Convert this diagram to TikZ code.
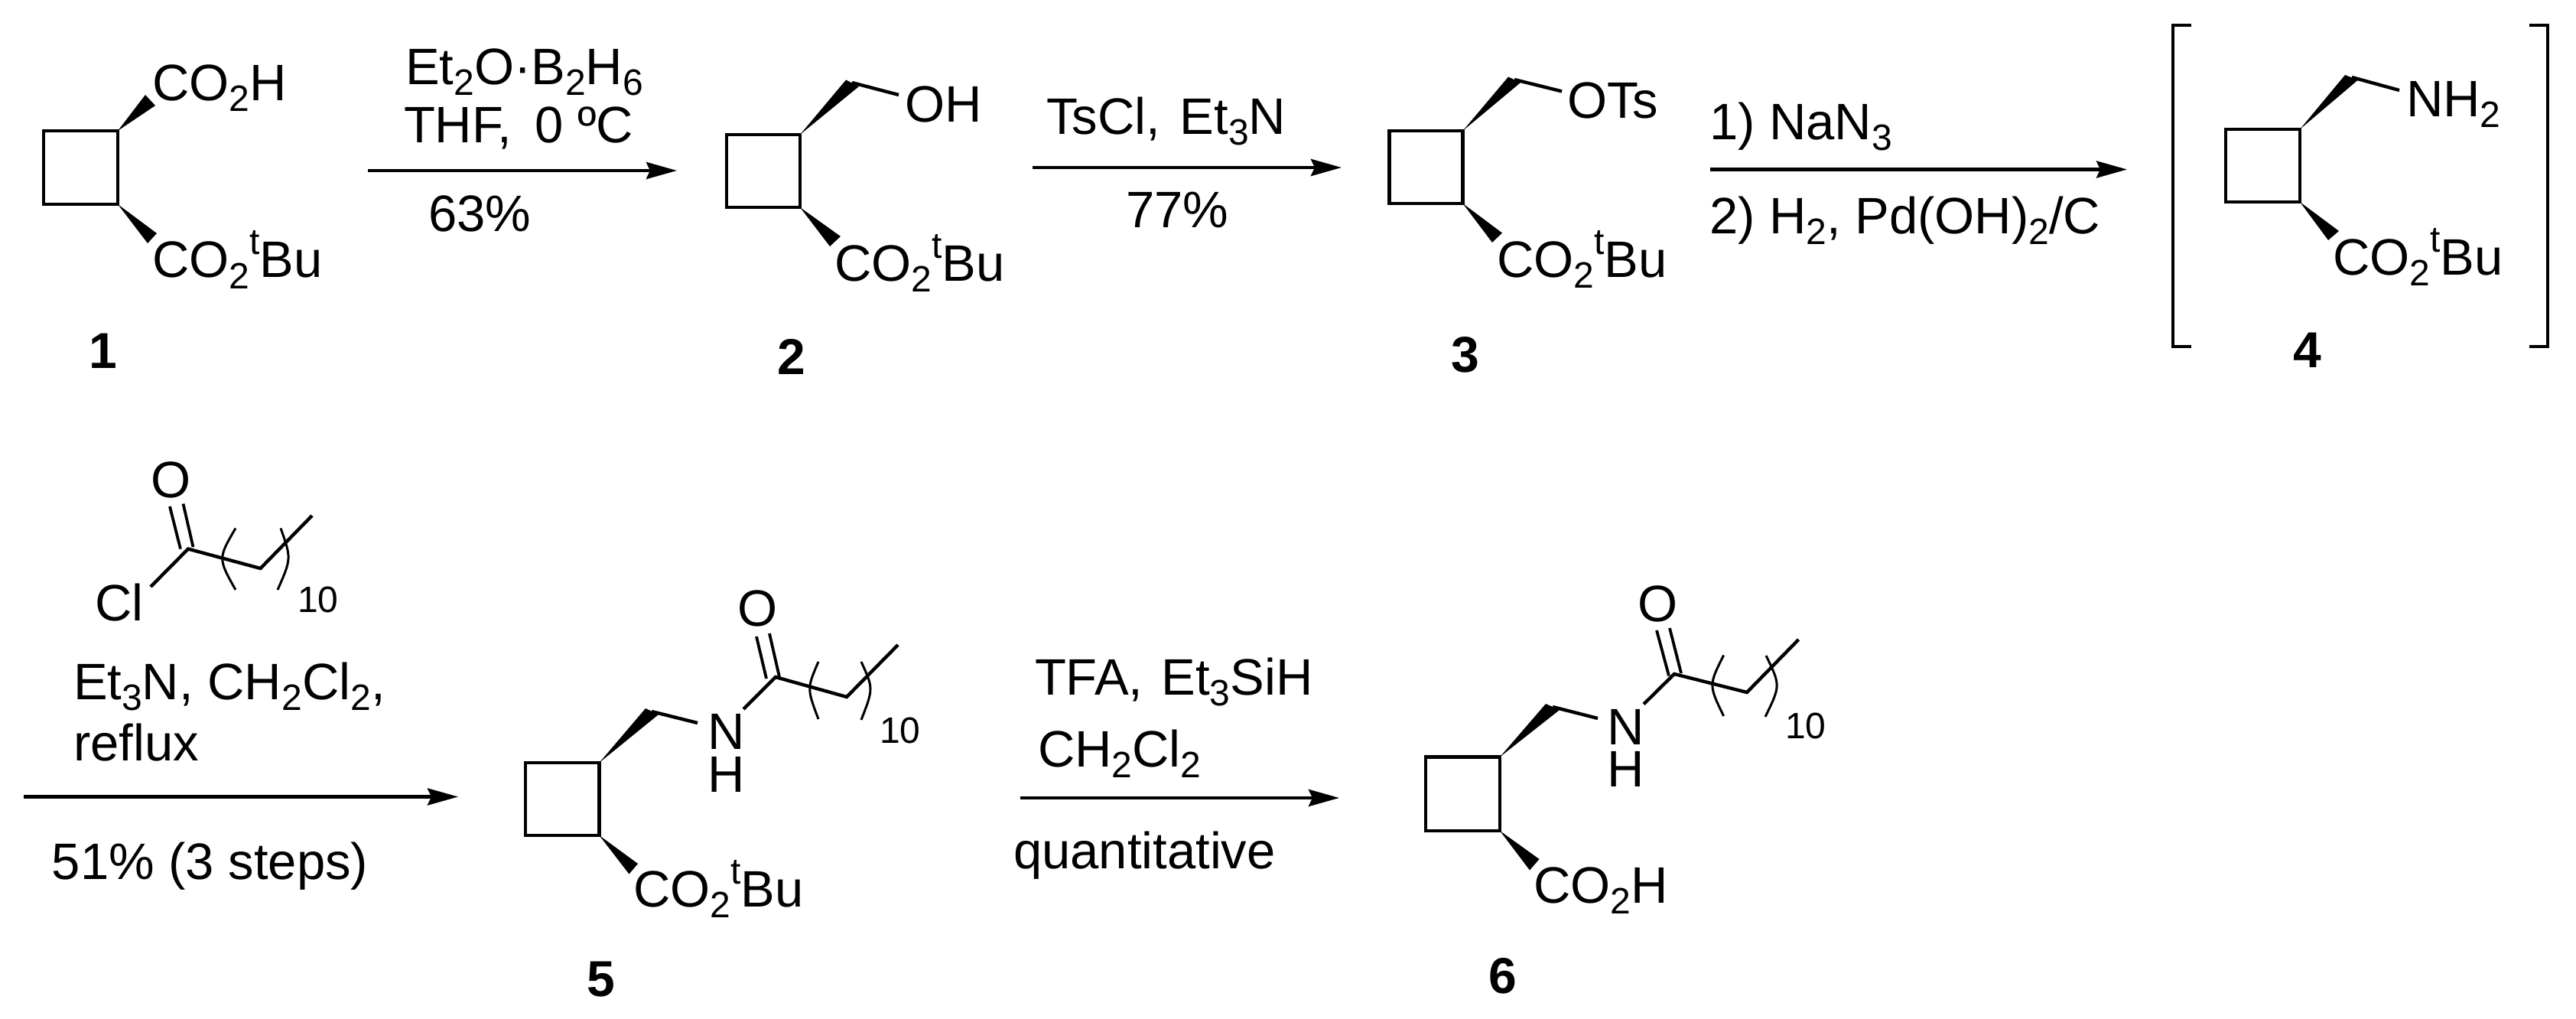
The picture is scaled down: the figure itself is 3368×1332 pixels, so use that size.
\documentclass[tikz,border=0pt]{standalone}
\usepackage{fontspec}
\setmainfont{Liberation Sans}
\usetikzlibrary{arrows.meta}
\newcommand{\dn}[1]{\raisebox{-7pt}{\fontsize{24pt}{27pt}\selectfont #1}}
\newcommand{\up}[1]{\raisebox{15pt}{\fontsize{24pt}{27pt}\selectfont #1}}
\newcommand{\ten}{\fontsize{24pt}{27pt}\selectfont 10}
\tikzset{
  txt/.style={anchor=base west,inner sep=0pt,outer sep=0pt,font=\fontsize{33.5pt}{38pt}\selectfont},
  cmpd/.style={anchor=center,inner sep=0pt,outer sep=0pt,font=\fontsize{33pt}{36pt}\selectfont\bfseries},
  bond/.style={line width=2.2pt,line join=miter},
  dbl/.style={line width=1.9pt},
  hook/.style={line width=1.5pt},
  rxn/.style={line width=2.2pt,-{Stealth[length=20pt,width=11pt,inset=2.5pt]}},
  brk/.style={line width=2.2pt,line join=miter}
}
% \ring{name}{left}{right}{top}{bottom}
\newcommand{\ring}[5]{%
  \coordinate (#1ul) at (#2,#4);
  \coordinate (#1ur) at (#3,#4);
  \coordinate (#1ll) at (#2,#5);
  \coordinate (#1lr) at (#3,#5);
  \draw[bond] (#1ul) -- (#1ur) -- (#1lr) -- (#1ll) -- cycle;}
\newcommand{\bondwedge}[3]{\fill (#1) -- (#2) -- (#3) -- cycle;}
\begin{document}
\begin{tikzpicture}[x=0.5pt,y=-0.5pt]
\useasboundingbox (0,0) rectangle (3368,1332);
% ---------- 1
\ring{a}{57}{154}{171}{267}
\coordinate (a1) at (190,124); \coordinate (a2) at (203,138);
\coordinate (a3) at (205,305); \coordinate (a4) at (193,318);
\bondwedge{aur}{a1}{a2}
\bondwedge{alr}{a3}{a4}
\node[txt] (aT) at (199,132) {CO\dn{2}H};
\node[txt] (aB) at (199,363) {CO\dn{2}\up{t}Bu};
\node[cmpd] (n1) at (135,459) {1};
% ---------- arrow 1
\coordinate (r1s) at (481,223); \coordinate (r1e) at (885,223);
\draw[rxn] (r1s) -- (r1e);
\node[txt] (r1a) at (530,111) {Et\dn{2}O·B\dn{2}H\dn{6}};
\node[txt] (r1b) at (528,187) {THF,\, 0 ºC};
\node[txt] (r1c) at (560,303) {63\%};
% ---------- 2
\ring{b}{950}{1046}{176}{271}
\coordinate (b1) at (1106,104.5); \coordinate (b2) at (1123,113); \coordinate (bc) at (1114,108);
\coordinate (be) at (1175,124);
\coordinate (b3) at (1099,309); \coordinate (b4) at (1085,322);
\bondwedge{bur}{b1}{b2}
\bondwedge{blr}{b3}{b4}
\draw[bond] (bc) -- (be);
\node[txt] (bT) at (1183,160) {OH};
\node[txt] (bB) at (1091,367) {CO\dn{2}\up{t}Bu};
\node[cmpd] (n2) at (1035,466) {2};
% ---------- arrow 2
\coordinate (r2s) at (1350,219); \coordinate (r2e) at (1754,219);
\draw[rxn] (r2s) -- (r2e);
\node[txt] (r2a) at (1368,176) {TsCl,\hspace{13pt}Et\dn{3}N};
\node[txt] (r2b) at (1472,298) {77\%};
% ---------- 3
\ring{c}{1816.5}{1912.5}{171}{266}
\coordinate (c1) at (1972,100.5); \coordinate (c2) at (1988,108); \coordinate (cc) at (1980,104);
\coordinate (ce) at (2042,119.4);
\coordinate (c3) at (1964,304.5); \coordinate (c4) at (1951,317);
\bondwedge{cur}{c1}{c2}
\bondwedge{clr}{c3}{c4}
\draw[bond] (cc) -- (ce);
\node[txt] (cT) at (2049,155) {OTs};
\node[txt] (cB) at (1957,362) {CO\dn{2}\up{t}Bu};
\node[cmpd] (n3) at (1916,464) {3};
% ---------- arrow 3
\coordinate (r3s) at (2236,221.5); \coordinate (r3e) at (2781,221.5);
\draw[rxn] (r3s) -- (r3e);
\node[txt] (r3a) at (2235,183) {1) NaN\dn{3}};
\node[txt] (r3b) at (2235,306) {2) H\dn{2}, Pd(OH)\dn{2}/C};
% ---------- 4
\draw[brk] (2865,33) -- (2841,33) -- (2841,453) -- (2865,453);
\draw[brk] (3307,33) -- (3331,33) -- (3331,453) -- (3307,453);
\ring{d}{2910}{3007}{169}{264}
\coordinate (d1) at (3066,98); \coordinate (d2) at (3083,104.5); \coordinate (dc) at (3075,101);
\coordinate (de) at (3137,118);
\coordinate (d3) at (3058,302); \coordinate (d4) at (3044,314);
\bondwedge{dur}{d1}{d2}
\bondwedge{dlr}{d3}{d4}
\draw[bond] (dc) -- (de);
\node[txt] (dT) at (3146,153) {NH\dn{2}};
\node[txt] (dB) at (3050,359) {CO\dn{2}\up{t}Bu};
\node[cmpd] (n4) at (3017,458) {4};
% ---------- lauroyl chloride
\coordinate (lC) at (246,717.5);
\coordinate (lCl) at (197,767);
\coordinate (lk) at (340.5,743);
\coordinate (lm) at (408,674);
\draw[bond] (lCl) -- (lC) -- (lk) -- (lm);
\draw[dbl] (222,662) -- (236,717.6);
\draw[dbl] (239.5,658.5) -- (252.5,715);
\draw[hook] (308,690.5) .. controls (285,730) and (285,730) .. (308,771);
\draw[hook] (367,690.5) .. controls (381,730) and (381,730) .. (363,771);
\node[txt] (lO) at (197,650) {O};
\node[txt] (lClt) at (124,811) {Cl};
\node[txt] (lten) at (389,800) {\ten};
% ---------- reagents
\node[txt] (r4a) at (96,914.5) {Et\dn{3}N, CH\dn{2}Cl\dn{2},};
\node[txt] (r4b) at (96,994) {reflux};
\coordinate (r4s) at (31,1041.5); \coordinate (r4e) at (599,1041.5);
\draw[rxn] (r4s) -- (r4e);
\node[txt] (r4c) at (68,1149) {51\% (3 steps)};
% ---------- 5
\ring{e}{687}{783.5}{997}{1092}
\coordinate (e1) at (844,926); \coordinate (e2) at (861,934); \coordinate (ec) at (852,930);
\coordinate (eN) at (912,945);
\coordinate (e3) at (834,1129); \coordinate (e4) at (822.5,1142.5);
\coordinate (eC) at (1014,885);
\coordinate (eNb) at (972,927);
\coordinate (ek) at (1107,911);
\coordinate (em) at (1174,843);
\bondwedge{eur}{e1}{e2}
\bondwedge{elr}{e3}{e4}
\draw[bond] (ec) -- (eN);
\draw[bond] (eNb) -- (eC) -- (ek) -- (em);
\draw[dbl] (989,832) -- (1002,887);
\draw[dbl] (1006,828) -- (1019,885);
\draw[hook] (1070,865) .. controls (1055,900) and (1055,900) .. (1070,940);
\draw[hook] (1126,865) .. controls (1142,900) and (1142,900) .. (1126,941);
\node[txt] (eO) at (964,818.5) {O};
\node[txt] (eNt) at (925,979.5) {N};
\node[txt] (eHt) at (925,1035) {H};
\node[txt] (eten) at (1150,971) {\ten};
\node[txt] (eB) at (828,1185) {CO\dn{2}\up{t}Bu};
\node[cmpd] (n5) at (786,1280) {5};
% ---------- arrow 5
\coordinate (r5s) at (1334,1043); \coordinate (r5e) at (1751,1043);
\draw[rxn] (r5s) -- (r5e);
\node[txt] (r5a) at (1353,908.5) {TFA,\hspace{12pt}Et\dn{3}SiH};
\node[txt] (r5b) at (1357,1002) {CH\dn{2}Cl\dn{2}};
\node[txt] (r5c) at (1325,1135) {quantitative};
% ---------- 6
\ring{f}{1864}{1961}{989.5}{1086}
\coordinate (f1) at (2021,920); \coordinate (f2) at (2039,928); \coordinate (fc) at (2030,924);
\coordinate (fN) at (2089,939);
\coordinate (f3) at (2012.5,1123); \coordinate (f4) at (2000,1137.5);
\coordinate (fC) at (2189,881);
\coordinate (fNb) at (2149,920.5);
\coordinate (fk) at (2284,905);
\coordinate (fm) at (2351.5,836);
\bondwedge{fur}{f1}{f2}
\bondwedge{flr}{f3}{f4}
\draw[bond] (fc) -- (fN);
\draw[bond] (fNb) -- (fC) -- (fk) -- (fm);
\draw[dbl] (2166,824) -- (2182,883.5);
\draw[dbl] (2183,821) -- (2198,880);
\draw[hook] (2253.6,856.5) .. controls (2234,895.6) and (2234,895.6) .. (2253.6,936);
\draw[hook] (2309,857) .. controls (2328,896) and (2328,896) .. (2308,937);
\node[txt] (fO) at (2141,812) {O};
\node[txt] (fNt) at (2101,973) {N};
\node[txt] (fHt) at (2101,1028) {H};
\node[txt] (ften) at (2334,965) {\ten};
\node[txt] (fB) at (2005,1180) {CO\dn{2}H};
\node[cmpd] (n6) at (1965,1276) {6};
\end{tikzpicture}
\end{document}
